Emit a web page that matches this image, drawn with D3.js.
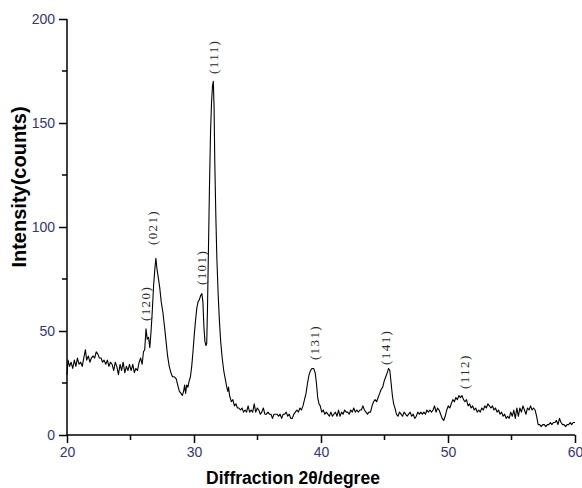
<!DOCTYPE html>
<html><head><meta charset="utf-8">
<script src="https://cdn.jsdelivr.net/npm/d3@7"></script>
<style>html,body{margin:0;padding:0;background:#fff;}svg{display:block;}</style>
</head><body>
<script>
// ---- DATA ----
const xTicks = [20, 30, 40, 50, 60];
const yTicks = [0, 50, 100, 150, 200];
const xLabel = "Diffraction 2θ/degree";
const yLabel = "Intensity(counts)";
// [2θ, counts]
const xrdPattern = [
[20.00,29],[20.08,36],[20.20,33],[20.32,35],[20.45,32],[20.58,36],[20.70,33],[20.82,37],[20.95,34],[21.08,35],
[21.20,33],[21.32,37],[21.45,41],[21.55,36],[21.68,38],[21.80,35],[21.92,37],[22.05,38],[22.18,37],[22.30,40],
[22.42,39],[22.55,37],[22.68,37],[22.80,35],[22.92,36],[23.05,34],[23.18,36],[23.30,33],[23.42,35],[23.55,34],
[23.68,31],[23.80,35],[23.92,33],[24.05,29],[24.18,34],[24.30,31],[24.42,35],[24.55,30],[24.68,33],[24.80,31],
[24.92,34],[25.05,31],[25.18,34],[25.30,30],[25.42,32],[25.55,31],[25.68,35],[25.80,37],[25.92,34],[26.02,40],
[26.12,41],[26.22,51],[26.32,46],[26.42,47],[26.52,42],[26.62,50],[26.72,60],[26.82,72],[26.92,80],[27.00,85],
[27.08,80],[27.18,76],[27.30,71],[27.42,64],[27.55,59],[27.68,52],[27.80,45],[27.92,38],[28.05,33],[28.18,30],
[28.30,28],[28.45,28],[28.60,27],[28.72,24],[28.85,21],[28.98,20],[29.08,19],[29.18,21],[29.26,24],[29.34,20],
[29.42,24],[29.52,23],[29.62,26],[29.72,28],[29.82,33],[29.92,40],[30.02,48],[30.12,55],[30.22,61],[30.32,64],
[30.42,65],[30.52,67],[30.62,68],[30.70,64],[30.78,52],[30.86,45],[30.94,43],[31.00,44],[31.06,60],[31.14,90],
[31.22,120],[31.30,145],[31.38,160],[31.46,168],[31.52,170],[31.58,158],[31.64,130],[31.72,105],[31.80,85],[31.90,68],
[32.00,55],[32.10,45],[32.22,37],[32.34,31],[32.46,27],[32.58,23],[32.66,21],[32.72,23],[32.80,19],[32.94,16],[33.06,17],
[33.18,14],[33.30,15],[33.42,13],[33.54,13],[33.66,12],[33.78,13],[33.90,11],[34.02,12],[34.14,11],[34.26,14],
[34.38,11],[34.50,12],[34.62,11],[34.74,15],[34.86,11],[34.98,13],[35.10,12],[35.22,10],[35.34,11],[35.46,13],
[35.58,10],[35.70,10],[35.82,11],[35.94,10],[36.06,10],[36.18,8],[36.30,10],[36.42,10],[36.54,10],[36.66,9],
[36.78,10],[36.90,8],[37.02,10],[37.14,10],[37.26,11],[37.38,9],[37.50,10],[37.62,8],[37.74,8],[37.86,10],
[37.98,11],[38.10,12],[38.22,11],[38.34,13],[38.46,12],[38.58,14],[38.70,17],[38.82,20],[38.94,25],[39.06,29],
[39.18,31],[39.30,32],[39.42,32],[39.54,30],[39.64,25],[39.74,18],[39.84,15],[39.94,14],[40.06,11],[40.18,12],
[40.30,10],[40.42,11],[40.54,10],[40.66,9],[40.78,11],[40.90,9],[41.02,10],[41.14,11],[41.26,9],[41.38,12],
[41.50,9],[41.62,11],[41.74,10],[41.86,12],[41.98,11],[42.10,11],[42.22,10],[42.34,12],[42.46,11],[42.58,13],
[42.70,11],[42.82,12],[42.94,11],[43.06,12],[43.18,12],[43.30,14],[43.42,12],[43.54,11],[43.66,10],[43.78,11],
[43.90,11],[44.02,14],[44.14,16],[44.26,17],[44.38,16],[44.50,18],[44.62,20],[44.74,22],[44.86,23],[44.98,26],
[45.10,28],[45.22,30],[45.32,32],[45.42,31],[45.52,25],[45.62,19],[45.72,15],[45.82,13],[45.94,10],[46.06,9],
[46.18,11],[46.30,10],[46.42,9],[46.54,11],[46.66,10],[46.78,9],[46.90,10],[47.02,11],[47.14,9],[47.26,10],
[47.38,8],[47.50,9],[47.62,11],[47.74,10],[47.86,11],[47.98,10],[48.10,11],[48.22,10],[48.34,12],[48.46,11],
[48.58,12],[48.70,11],[48.82,12],[48.94,14],[49.06,11],[49.18,13],[49.30,12],[49.42,10],[49.54,8],[49.66,7],
[49.78,9],[49.90,12],[50.02,14],[50.14,13],[50.26,15],[50.38,17],[50.50,16],[50.62,18],[50.74,17],[50.86,19],
[50.98,18],[51.10,19],[51.22,17],[51.34,16],[51.46,17],[51.58,14],[51.70,15],[51.82,13],[51.94,14],[52.06,12],
[52.18,13],[52.30,11],[52.42,12],[52.54,11],[52.66,13],[52.78,12],[52.90,14],[53.02,13],[53.14,15],[53.26,14],
[53.38,13],[53.50,14],[53.62,12],[53.74,13],[53.86,11],[53.98,12],[54.10,10],[54.22,11],[54.34,9],[54.46,10],
[54.58,8],[54.70,9],[54.82,8],[54.94,11],[55.06,9],[55.18,12],[55.30,8],[55.42,13],[55.54,9],[55.66,13],
[55.78,11],[55.90,14],[56.02,12],[56.14,10],[56.26,13],[56.38,12],[56.50,14],[56.62,12],[56.74,13],[56.86,12],
[56.98,9],[57.10,5],[57.22,5],[57.34,4],[57.46,5],[57.58,5],[57.70,4],[57.82,5],[57.94,5],[58.06,6],
[58.18,5],[58.30,6],[58.42,6],[58.54,7],[58.66,5],[58.78,8],[58.90,6],[59.02,5],[59.14,5],[59.26,4],
[59.38,5],[59.50,5],[59.62,6],[59.74,5],[59.86,6],[60.00,6]
];
const peakLabels = ["(120)", "(021)", "(101)", "(111)", "(131)", "(141)", "(112)"];
const peakTheta  = [26.2, 26.7, 30.6, 31.5, 39.45, 45.1, 51.25];
const peakLabelI = [54.8, 91.3, 72.1, 173.6, 36, 33.7, 22.1];

// ---- CHART ----
const W = 582, H = 488;
const m = {left: 67, right: 7, top: 19, bottom: 53};
const svg = d3.select("body").append("svg").attr("width", W).attr("height", H);

const x = d3.scaleLinear().domain([20, 60]).range([m.left, W - m.right]);
const y = d3.scaleLinear().domain([0, 200]).range([H - m.bottom, m.top]);

const tickColor = "#34347c";

// minor ticks
const xMinor = d3.range(25, 60, 10);
const yMinor = d3.range(25, 200, 50);

const gx = svg.append("g").attr("transform", `translate(0,${y(0)})`);
gx.call(d3.axisBottom(x).tickValues(xTicks).tickSize(8).tickPadding(4).tickFormat(d3.format("d")));
gx.append("g").selectAll("line").data(xMinor).join("line")
  .attr("x1", d => x(d)).attr("x2", d => x(d)).attr("y1", 0).attr("y2", 5)
  .attr("stroke", "#000").attr("stroke-width", 1.5);

const gy = svg.append("g").attr("transform", `translate(${x(20)},0)`);
gy.call(d3.axisLeft(y).tickValues(yTicks).tickSize(8).tickPadding(4).tickFormat(d3.format("d")));
gy.append("g").selectAll("line").data(yMinor).join("line")
  .attr("y1", d => y(d)).attr("y2", d => y(d)).attr("x1", 0).attr("x2", -5)
  .attr("stroke", "#000").attr("stroke-width", 1.5);

[gx, gy].forEach(g => {
  g.select(".domain").attr("stroke", "#000").attr("stroke-width", 1.5)
    .attr("d", g === gx ? `M${x(20)},0H${x(60)}` : `M0,${y(0)}V${y(200)}`);
  g.selectAll(".tick line").attr("stroke", "#000").attr("stroke-width", 1.5);
  g.selectAll(".tick text").attr("fill", tickColor)
    .style("font-family", "'Liberation Sans', Arial, sans-serif").style("font-size", "14px");
});

// data line
const line = d3.line().x(d => x(d[0])).y(d => y(d[1]));
svg.append("path").datum(xrdPattern).attr("d", line)
  .attr("fill", "none").attr("stroke", "#000").attr("stroke-width", 1.1).attr("stroke-linejoin", "round");

// peak labels
svg.append("g").selectAll("text").data(peakLabels).join("text")
  .attr("transform", (d, i) => `translate(${x(peakTheta[i])},${y(peakLabelI[i])}) rotate(-90)`)
  .attr("dy", "0.36em")
  .attr("text-anchor", "start")
  .style("font-family", "'Liberation Serif', 'Times New Roman', serif")
  .style("font-size", "13px")
  .style("letter-spacing", "1.4px")
  .attr("fill", "#2a2a2a")
  .text(d => d);

// axis titles
svg.append("text")
  .attr("x", 293).attr("y", 484)
  .attr("text-anchor", "middle")
  .style("font-family", "'Liberation Sans', Arial, sans-serif")
  .style("font-weight", "bold").style("font-size", "17.5px")
  .text(xLabel);

svg.append("text")
  .attr("transform", `translate(26,187) rotate(-90)`)
  .attr("text-anchor", "middle")
  .style("font-family", "'Liberation Sans', Arial, sans-serif")
  .style("font-weight", "bold").style("font-size", "20px")
  .text(yLabel);
</script>
</body></html>
